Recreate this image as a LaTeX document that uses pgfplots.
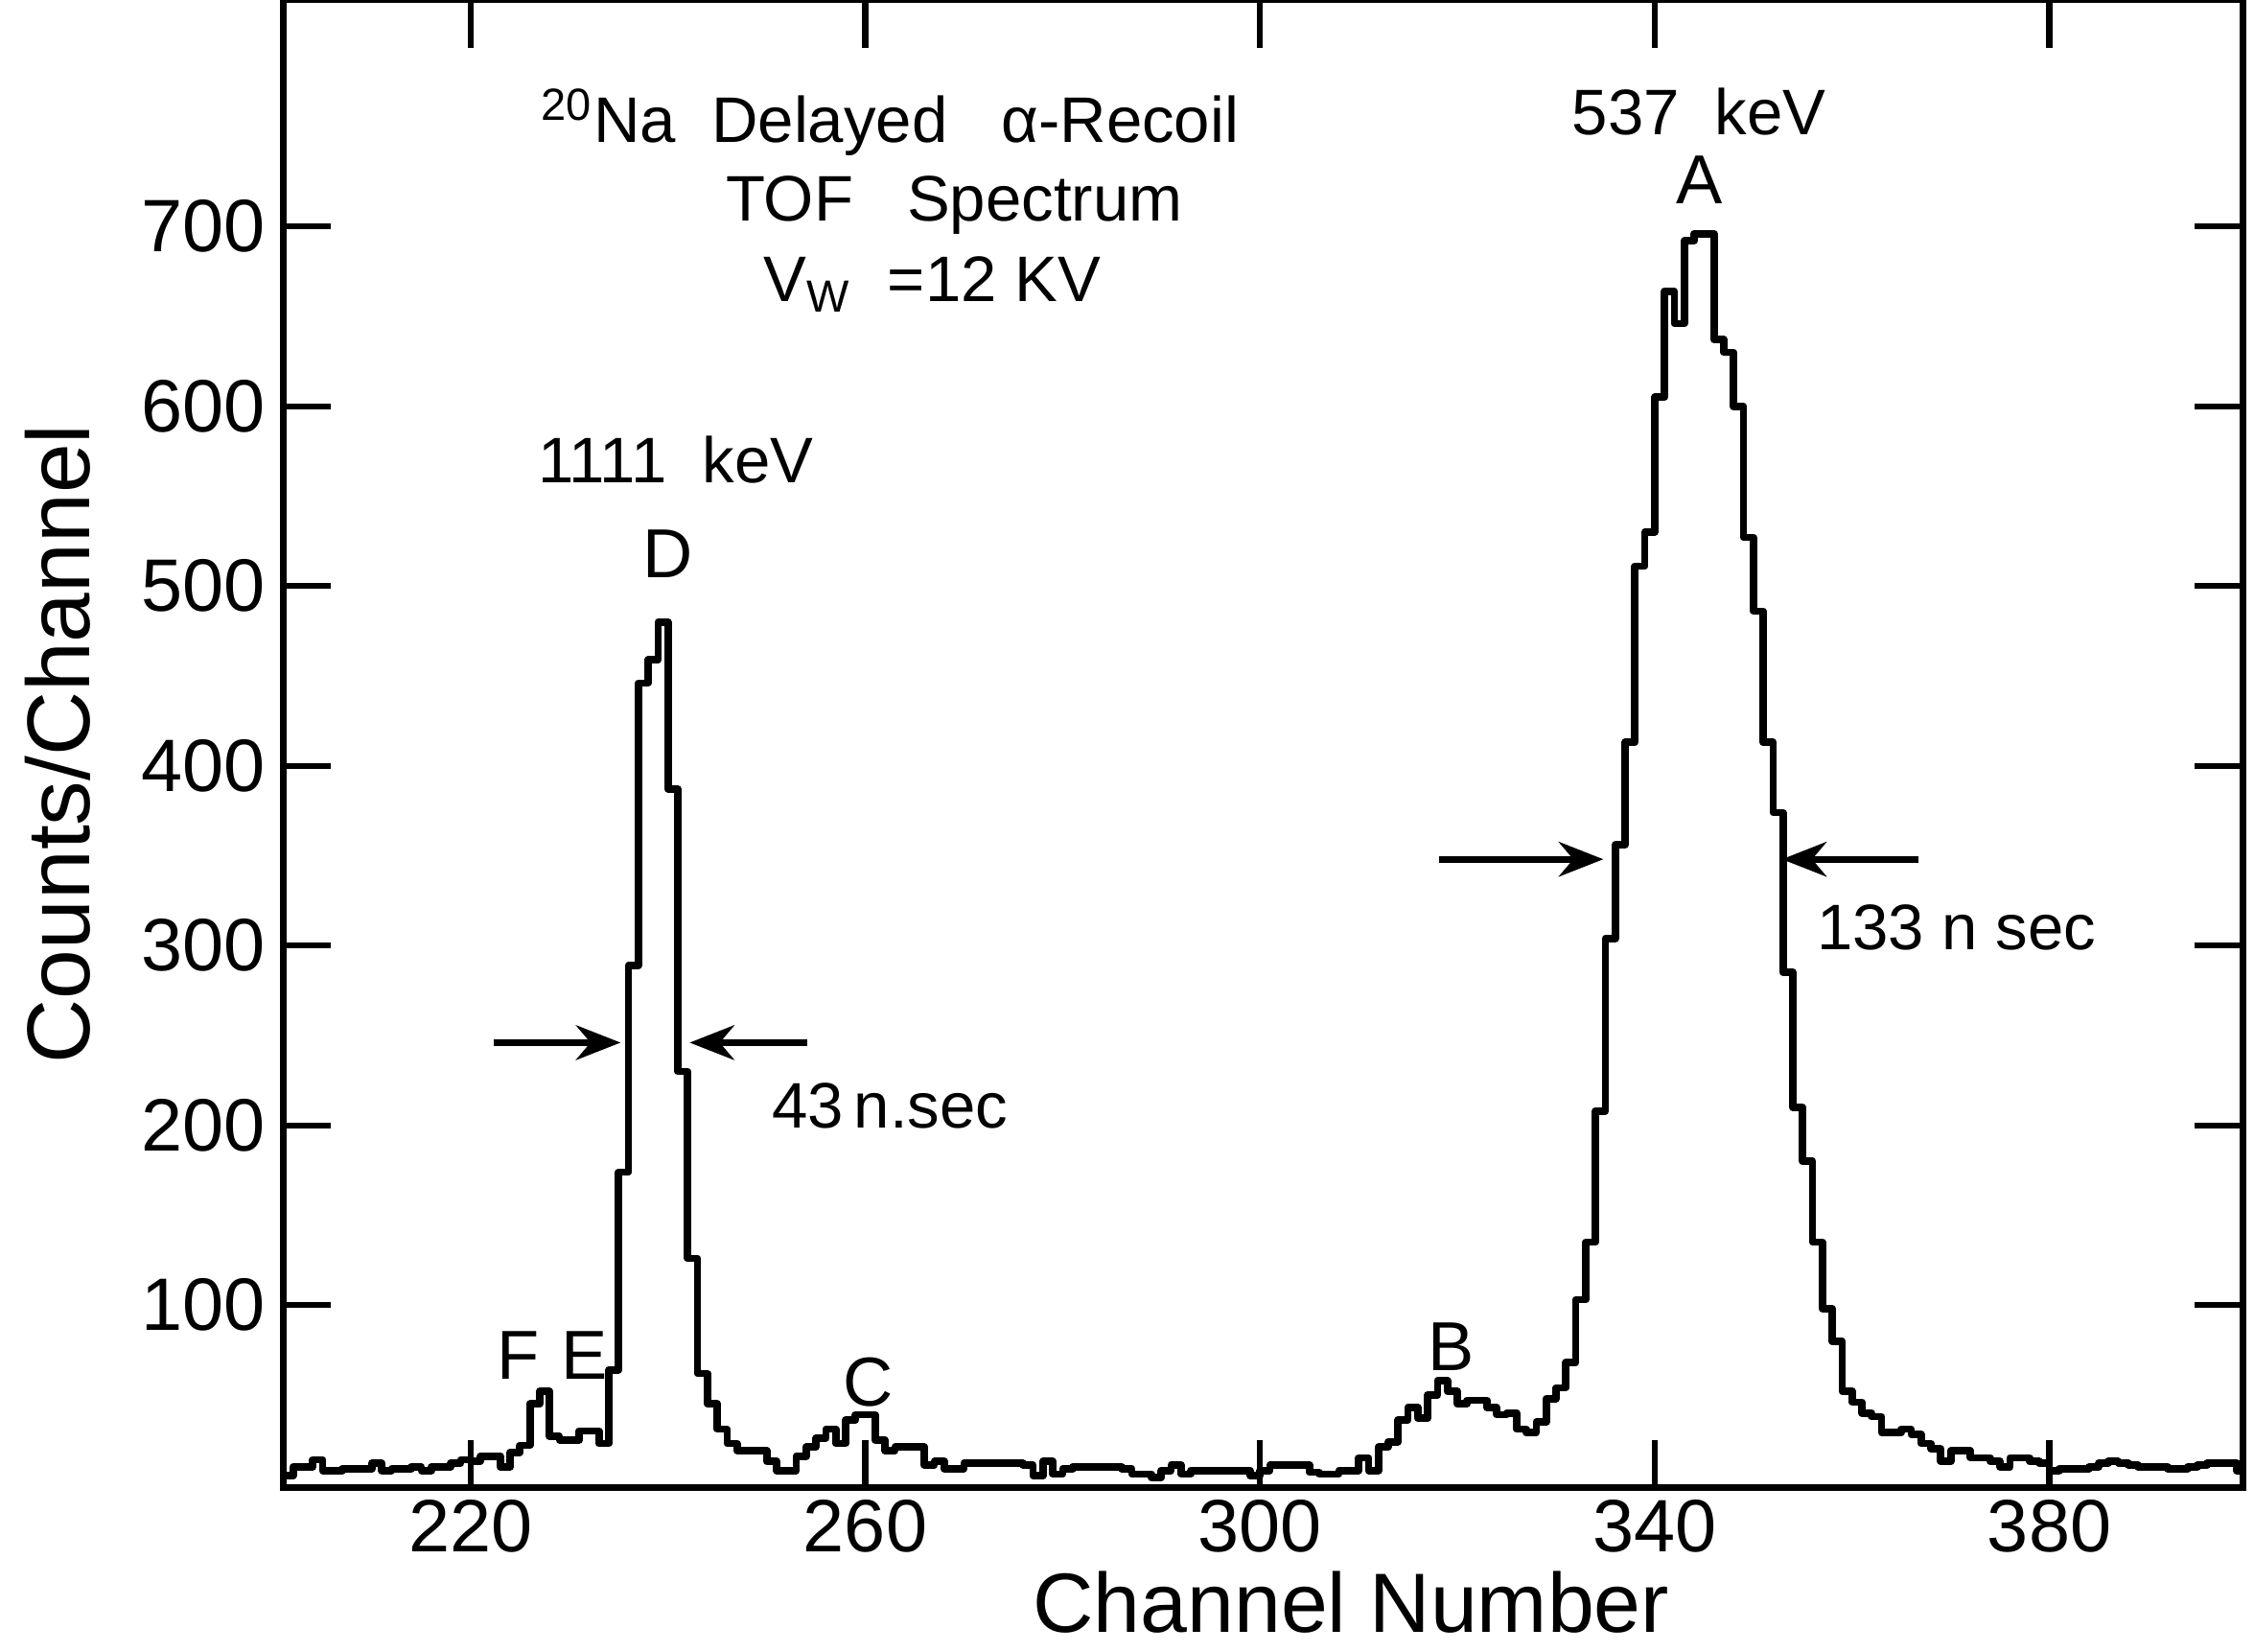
\documentclass[border=0pt]{standalone}
\usepackage{fontspec}
\setmainfont{Liberation Sans}
\usepackage{pgfplots}
\pgfplotsset{compat=1.18}
\usepackage{pgfplotstable}
\usetikzlibrary{arrows.meta}

\newcommand{\fs}[1]{\fontsize{#1}{#1}\selectfont}

% counts per channel
\pgfplotstableread{
ch n
201 5
202 10
203 10
204 14
205 8
206 8
207 9
208 9
209 9
210 12
211 8
212 9
213 9
214 10
215 8
216 10
217 10
218 12
219 14
220 13
221 16
222 16
223 10
224 18
225 22
226 45
227 52
228 27
229 25
230 25
231 30
232 30
233 23
234 64
235 174
236 289
237 446
238 459
239 480
240 387
241 230
242 126
243 62
244 45
245 31
246 23
247 19
248 19
249 19
250 13
251 8
252 8
253 16
254 21
255 26
256 31
257 23
258 36
259 39
260 39
261 25
262 19
263 21
264 21
265 21
266 11
267 13
268 9
269 9
270 12
271 12
272 12
273 12
274 12
275 12
276 11
277 5
278 13
279 6
280 9
281 10
282 10
283 10
284 10
285 10
286 9
287 6
288 6
289 4
290 8
291 11
292 6
293 8
294 8
295 8
296 8
297 8
298 8
299 5
300 8
301 11
302 11
303 11
304 11
305 7
306 6
307 6
308 8
309 8
310 15
311 8
312 21
313 24
314 36
315 43
316 37
317 50
318 58
319 52
320 45
321 47
322 47
323 43
324 39
325 40
326 31
327 29
328 35
329 48
330 54
331 68
332 103
333 135
334 208
335 304
336 356
337 413
338 511
339 530
340 605
341 664
342 646
343 692
344 696
345 696
346 637
347 630
348 600
349 527
350 486
351 413
352 374
353 285
354 210
355 180
356 135
357 98
358 80
359 52
360 46
361 40
362 38
363 29
364 29
365 31
366 28
367 23
368 20
369 13
370 19
371 19
372 15
373 15
374 13
375 10
376 15
377 15
378 13
379 12
380 8
381 9
382 9
383 9
384 10
385 12
386 13
387 12
388 11
389 10
390 10
391 10
392 9
393 9
394 10
395 11
396 12
397 12
398 12
399 8
400 8
}\spectrum

\begin{document}
\begin{tikzpicture}
\begin{axis}[
  scale only axis, width=13.91cm, height=10.56cm,
  xmin=201, xmax=399.6, ymin=-1.6, ymax=826,
  xtick={220,260,300,340,380}, ytick={100,200,...,700},
  tick align=inside, xtick pos=both, ytick pos=both,
  major tick length=0.34cm,
  tick style={line width=1.2pt, black},
  axis line style={line width=1.3pt},
  /pgf/number format/assume math mode=true,
  ticklabel style={font=\fs{15}},
  xticklabel style={yshift=1pt},
  xlabel={Channel Number}, ylabel={Counts/Channel},
  xlabel style={font=\fs{17}, at={(axis description cs:0.545,-0.077)}, anchor=center},
  ylabel style={font=\fs{18}, at={(axis description cs:-0.115,0.5)}, anchor=center},
  clip=false,
]
\addplot[const plot, black, line width=1.5pt, line join=round] table[x=ch, y=n] {\spectrum};

\coordinate (bl) at (rel axis cs:0,0);
\coordinate (tr) at (rel axis cs:1,1);

% annotations
\node[font=\fs{13}] at (axis cs:262.5,758) {\textsuperscript{20}Na~ Delayed~~ α-Recoil};
\node[font=\fs{13}] at (axis cs:269,712) {TOF~~ Spectrum};
\node[font=\fs{13}] at (axis cs:266.8,668) {V\textsubscript{W}~~=12 KV};
\node[font=\fs{13}] at (axis cs:344.5,764) {537~ keV};
\node[font=\fs{14}] at (axis cs:344.5,726) {A};
\node[font=\fs{13}] at (axis cs:240.8,570) {1111~ keV};
\node[font=\fs{14}] at (axis cs:240,518) {D};
\node[font=\fs{14}] at (axis cs:224.8,72) {F};
\node[font=\fs{14}] at (axis cs:231.5,72) {E};
\node[font=\fs{14}] at (axis cs:260.3,57) {C};
\node[font=\fs{14}] at (axis cs:319.4,77) {B};
\node[font=\fs{13}] at (axis cs:262.5,211) {43\,n.sec};
\node[font=\fs{13}] at (axis cs:370.6,310) {133 n sec};

\draw[line width=1.3pt, -{Stealth[length=9pt,width=7pt]}] (axis cs:222.3,246) -- (axis cs:235.2,246);
\draw[line width=1.3pt, -{Stealth[length=9pt,width=7pt]}] (axis cs:254.1,246) -- (axis cs:242.2,246);
\draw[line width=1.3pt, -{Stealth[length=9pt,width=7pt]}] (axis cs:318.1,348) -- (axis cs:334.8,348);
\draw[line width=1.3pt, -{Stealth[length=9pt,width=7pt]}] (axis cs:366.7,348) -- (axis cs:352.9,348);
\end{axis}
\pgfresetboundingbox
\path ([xshift=-2.01cm,yshift=-1.16cm]bl) rectangle ([xshift=0.08cm]tr);
\end{tikzpicture}
\end{document}
